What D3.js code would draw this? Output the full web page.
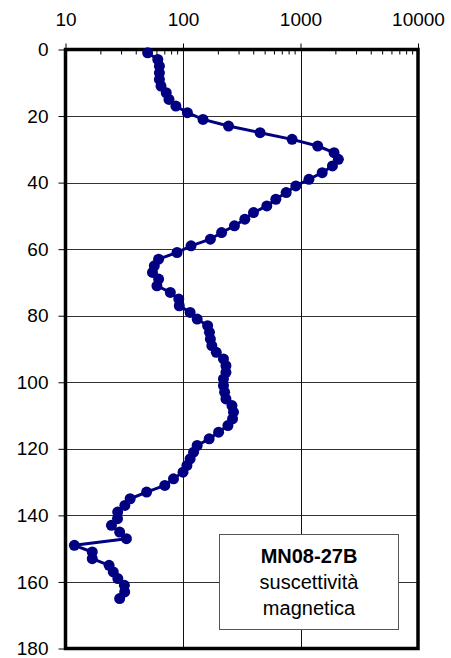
<!DOCTYPE html>
<html>
<head>
<meta charset="utf-8">
<script src="https://cdn.jsdelivr.net/npm/d3@7"></script>
<style>
  html, body { margin: 0; padding: 0; background: #fff; }
  svg { display: block; font-family: "Liberation Sans", Arial, sans-serif; }
</style>
</head>
<body>
<svg id="chart" width="451" height="658"></svg>
<script>
// Depth (m) of each measurement
const depths = [
  1, 3, 5, 7, 9, 11, 13, 15, 17, 19,
  21, 23, 25, 27, 29, 31, 33, 35, 37, 39,
  41, 43, 45, 47, 49, 51, 53, 55, 57, 59,
  61, 63, 65, 67, 69, 71, 73, 75, 77, 79,
  81, 83, 85, 87, 89, 91, 93, 95, 97, 99,
  101, 103, 105, 107, 109, 111, 113, 115, 117, 119,
  121, 123, 125, 127, 129, 131, 133, 135, 137, 139,
  141, 143, 145, 147, 149, 151, 153, 155, 157, 159,
  161, 163, 165
];
// Magnetic susceptibility at each depth
const susceptibility = [
  50, 61, 63, 63, 63, 65, 72, 76, 87, 109,
  148, 244, 453, 848, 1400, 1930, 2100, 1870, 1530, 1180,
  912, 755, 617, 517, 398, 336, 274, 213, 171, 117,
  89, 62, 57, 55, 62, 60, 78, 92, 93, 115,
  132, 162, 168, 171, 176, 192, 221, 232, 232, 221,
  221, 226, 232, 261, 269, 264, 241, 201, 167, 132,
  123, 115, 108, 100, 83, 70, 49, 35.5, 32, 27.8,
  27.7, 24.6, 28.9, 33, 11.9, 16.9, 16.9, 23.5, 25.5, 27.9,
  31.7, 31.9, 28.9
];
const xTicks = [10, 100, 1000, 10000];
const xMinorTicks = [20, 30, 40, 50, 60, 70, 80, 90, 200, 300, 400, 500, 600, 700, 800, 900,
                     2000, 3000, 4000, 5000, 6000, 7000, 8000, 9000];
const yTicks = [0, 20, 40, 60, 80, 100, 120, 140, 160, 180];
const legendLines = ["MN08-27B", "suscettività", "magnetica"];

const svg = d3.select("#chart");
const plotLeft = 65.5, plotRight = 418, plotTop = 49.5, plotBottom = 648.5;

const x = d3.scaleLog().domain([10, 10000]).range([plotLeft, plotRight]);
const y = d3.scaleLinear().domain([0, 180]).range([plotTop, plotBottom]);

// Grid
svg.append("g").selectAll("line").data(yTicks.filter(t => t > 0 && t < 180)).join("line")
  .attr("x1", plotLeft).attr("x2", plotRight)
  .attr("y1", d => Math.round(y(d)) + 0.5).attr("y2", d => Math.round(y(d)) + 0.5)
  .attr("stroke", "#333").attr("stroke-width", 1);
svg.append("g").selectAll("line").data([100, 1000]).join("line")
  .attr("x1", d => Math.round(x(d)) + 0.5).attr("x2", d => Math.round(x(d)) + 0.5)
  .attr("y1", plotTop).attr("y2", plotBottom)
  .attr("stroke", "#111").attr("stroke-width", 1);

// Top (log) axis
const xAxis = d3.axisTop(x).tickValues(xTicks).tickFormat(d3.format("d")).tickSize(6).tickPadding(17.5);
const gx = svg.append("g").attr("transform", `translate(0,${plotTop})`).call(xAxis);
gx.select(".domain").remove();
gx.selectAll("text").attr("font-size", 19).attr("fill", "#000")
  .attr("font-family", "'Liberation Sans', Arial, sans-serif");
gx.selectAll("line").attr("stroke", "#000");
svg.append("g").selectAll("line").data(xMinorTicks).join("line")
  .attr("x1", d => x(d)).attr("x2", d => x(d))
  .attr("y1", plotTop).attr("y2", plotTop + 5)
  .attr("stroke", "#000").attr("stroke-width", 1);

// Left (depth) axis
const yAxis = d3.axisLeft(y).tickValues(yTicks).tickSize(7).tickPadding(10);
const gy = svg.append("g").attr("transform", `translate(${plotLeft},0)`).call(yAxis);
gy.select(".domain").remove();
gy.selectAll("text").attr("font-size", 19).attr("fill", "#000")
  .attr("font-family", "'Liberation Sans', Arial, sans-serif");
gy.selectAll("line").attr("stroke", "#000");

// Plot frame
svg.append("rect")
  .attr("x", plotLeft).attr("y", plotTop)
  .attr("width", plotRight - plotLeft).attr("height", plotBottom - plotTop)
  .attr("fill", "none").attr("stroke", "#000").attr("stroke-width", 3.5);

// Series
const pts = depths.map((d, i) => ({ depth: d, v: susceptibility[i] }));
const line = d3.line().x(p => x(p.v)).y(p => y(p.depth));
svg.append("path").datum(pts)
  .attr("d", line).attr("fill", "none")
  .attr("stroke", "#000080").attr("stroke-width", 3).attr("stroke-linejoin", "round");
svg.append("g").selectAll("circle").data(pts).join("circle")
  .attr("cx", p => x(p.v)).attr("cy", p => y(p.depth)).attr("r", 5.5)
  .attr("fill", "#000080");

// Label box
const box = svg.append("g");
box.append("rect")
  .attr("x", 219.5).attr("y", 534.5).attr("width", 179).attr("height", 95)
  .attr("fill", "#fff").attr("stroke", "#555").attr("stroke-width", 1);
box.selectAll("text").data(legendLines).join("text")
  .attr("x", 309).attr("y", (d, i) => 563 + i * 26)
  .attr("text-anchor", "middle").attr("font-size", 20)
  .attr("font-weight", (d, i) => i === 0 ? "bold" : "normal")
  .attr("fill", "#000")
  .text(d => d);
</script>
</body>
</html>
